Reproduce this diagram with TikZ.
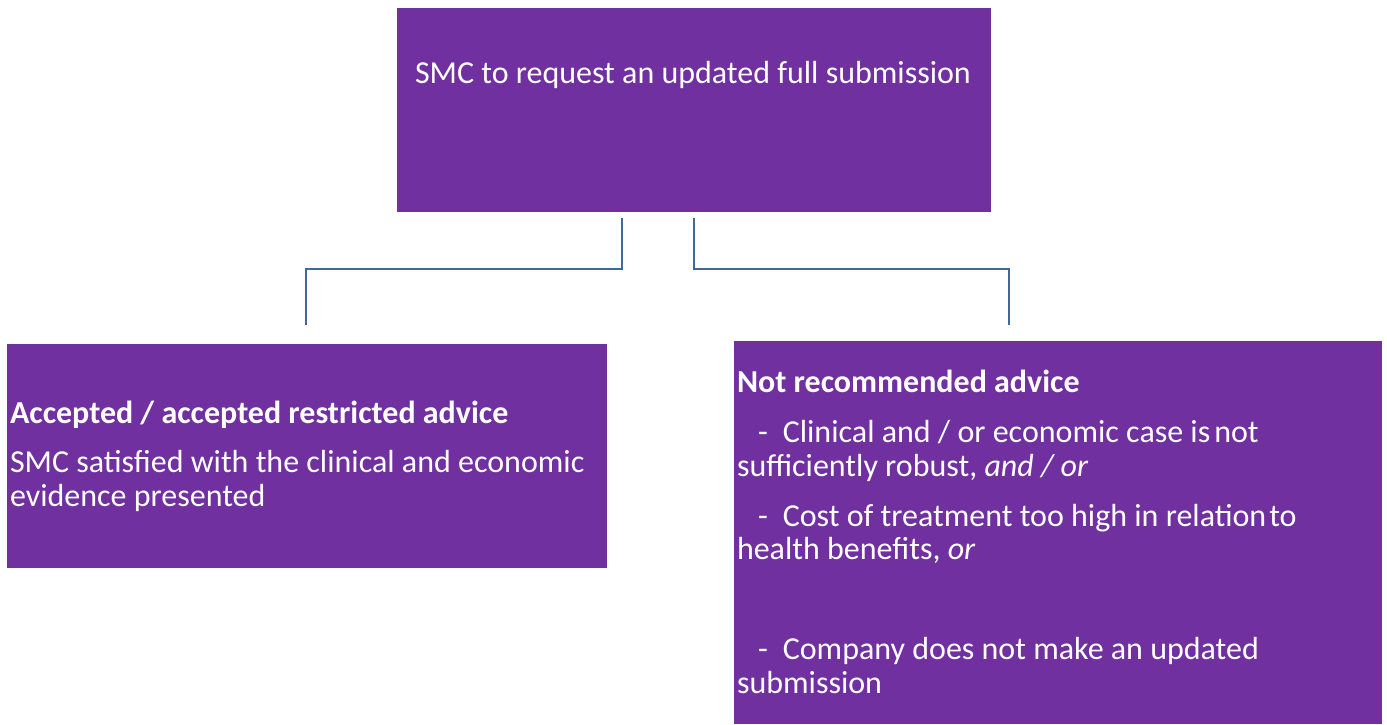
\documentclass[tikz,border=0pt]{standalone}
\usepackage{fontspec}
\setmainfont{Carlito}
\definecolor{boxpurple}{HTML}{7030A0}
\definecolor{connblue}{HTML}{41689A}
\begin{document}
\begin{tikzpicture}[x=1pt,y=-1pt,
  box/.style={fill=boxpurple,draw=none,inner sep=0pt,outer sep=0pt,anchor=north west},
  txt/.style={text=white,inner sep=0pt,outer sep=0pt,anchor=base west,font=\fontsize{32pt}{34pt}\selectfont},
  conn/.style={draw=connblue,line width=2.8pt}]
\useasboundingbox (0,0) rectangle (1387,724);
\node[box,minimum width=594pt,minimum height=204pt] (top) at (397,8) {};
\node[box,minimum width=600pt,minimum height=224pt] (left) at (7,344) {};
\node[box,minimum width=648pt,minimum height=383pt] (right) at (734,341) {};
\node[txt,anchor=base] (ttop) at (693,83) {SMC to request an updated full submission};
% left box text
\node[txt] (l1) at (10,423) {\bfseries Accepted / accepted restricted advice};
\node[txt] (l2) at (10,472) {SMC satisfied with the clinical and economic};
\node[txt] (l3) at (10,506) {evidence presented};
% right box text
\node[txt] (r1) at (737,392) {\bfseries Not recommended advice};
\node[txt] (r2) at (737,442) {\hspace*{21pt}-\hspace{15pt}Clinical and / or economic case is\hspace{4pt}not};
\node[txt] (r3) at (737,476) {sufficiently robust, \textit{and / or}};
\node[txt] (r4) at (737,526) {\hspace*{21pt}-\hspace{15pt}Cost of treatment too high in relation\hspace{3pt}to};
\node[txt] (r5) at (737,559) {health benefits, \textit{or}};
\node[txt] (r6) at (737,659) {\hspace*{21pt}-\hspace{15pt}Company does not make an updated};
\node[txt] (r7) at (737,693) {submission};
% connectors
\coordinate (lend) at (306,325);
\coordinate (rend) at (1009,325);
\draw[conn] ([xshift=-72pt,yshift=-6pt]top.south) -- ++(0,51) -| (lend);
\draw[conn] ([yshift=-6pt]top.south) -- ++(0,51) -| (rend);
\end{tikzpicture}
\end{document}
